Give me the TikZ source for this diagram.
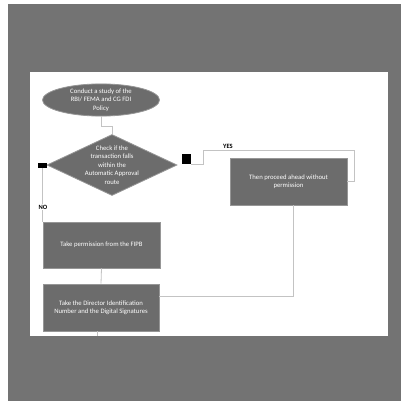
\documentclass[tikz,border=0pt]{standalone}
\usepackage{fontspec}
\setmainfont{Carlito}
\usepackage{tikz}
\usetikzlibrary{shapes,shapes.geometric,arrows,positioning}
\definecolor{bggray}{RGB}{115,115,115}
\definecolor{boxgray}{RGB}{108,108,108}
\definecolor{rimgray}{RGB}{150,150,150}
\definecolor{linegray}{RGB}{195,195,195}
\tikzstyle{proc} = [rectangle, draw=rimgray, line width=0.8pt, fill=boxgray, text=white, align=center, font=\fontsize{6.7}{8.5}\selectfont]
\tikzstyle{term} = [ellipse, draw=rimgray, line width=0.8pt, fill=boxgray, text=white, align=center, font=\fontsize{6.7}{8.5}\selectfont, minimum width=117pt, minimum height=29pt, inner sep=0pt]
\tikzstyle{decide} = [diamond, draw=rimgray, line width=0.8pt, fill=boxgray, minimum width=130pt, minimum height=61pt, inner sep=0pt]
\tikzstyle{dtext} = [text=white, align=center, font=\fontsize{6.7}{8.5}\selectfont, inner sep=0pt]
\tikzstyle{blk} = [rectangle, fill=black, draw=none, inner sep=0pt]
\tikzstyle{tedge}  = [draw=linegray, line width=0.8pt]
\tikzstyle{lbl} = [font=\fontsize{6.5}{7}\selectfont\bfseries, text=black, inner sep=1pt]

\begin{document}
\begin{tikzpicture}[x=1pt, y=-1pt]

% canvas =============================
\useasboundingbox (0,0) rectangle (401,401);
\fill[white] (0,0) rectangle (401,401);
\fill[bggray] (8,4) rectangle (401,401);
\fill[white] (30,72) rectangle (388,336);

% shapes =============================
\node[term] (start) at (101,100) {Conduct a study of the\\RBI/ FEMA and CG FDI\\Policy};
\node[decide] (check) at (112,165) {};
\node[dtext] (checktext) at (check.center) {Check if the\\transaction falls\\within the\\Automatic Approval\\route};

\node[proc, minimum width=117pt, minimum height=47pt] (then) at (288.5,181.5) {Then proceed ahead without\\permission};
\node[proc, minimum width=117pt, minimum height=46pt] (fipb) at (101.5,245) {Take permission from the FIPB};
\node[proc, minimum width=116pt, minimum height=47pt] (din) at (101,307.5) {Take the Director Identification\\Number and the Digital Signatures};

% markers
\node[blk, minimum width=9pt, minimum height=10pt] (yesmark) at (186.5,159) {};
\node[blk, minimum width=9pt, minimum height=5pt] (nomark) at (42.5,165.5) {};

% helper points
\coordinate (y1) at (203,150);
\coordinate (y2) at (354,150);
\coordinate (t1) at (293,296);
\coordinate (out) at (97,336);

% edges =============================
\path[tedge] (start.south) -- ++(0,10) -| (check.north);

% yes branch
\path[tedge] (yesmark.south east) -| (y1) -- (y2) |- (then.east);
\node[lbl, above] (yes) at (228,150) {YES};

% no branch
\path[tedge] (nomark.south) -- (nomark.south |- fipb.north);
\node[lbl, fill=white] (no) at (43,207) {NO};

% down the left column
\path[tedge] (fipb.south) -- (din.north);
\path[tedge] (then.south -| t1) -- (t1) -- (t1 -| din.east);
\path[tedge] (din.south -| out) -- (out);

\end{tikzpicture}
\end{document}
